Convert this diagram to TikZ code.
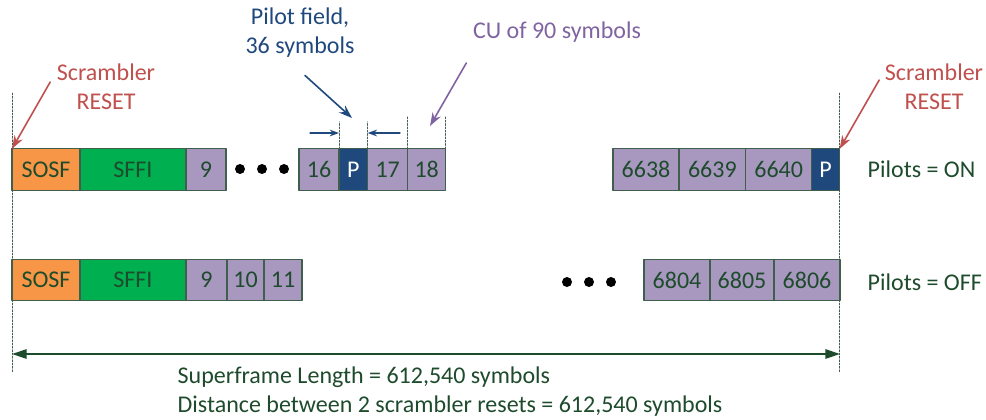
\documentclass[tikz,border=0pt]{standalone}
\usepackage{fontspec}
\setmainfont{Carlito}
\usetikzlibrary{arrows.meta,positioning}

\definecolor{sosfc}{HTML}{F79646}
\definecolor{sffic}{HTML}{00B050}
\definecolor{cuc}{HTML}{A898C0}
\definecolor{pilc}{HTML}{1F497D}
\definecolor{edgec}{HTML}{3F5E4C}
\definecolor{txtc}{HTML}{1E4B2C}
\definecolor{rstc}{HTML}{C0504D}
\definecolor{cutxt}{HTML}{8064A2}

\begin{document}
\begin{tikzpicture}[x=0.75pt,y=-0.75pt,line cap=round,line join=round,
    font=\fontsize{18}{21.75}\selectfont,
    cell/.style={draw=edgec,line width=0.8pt,minimum height=31pt,inner sep=0pt,outer sep=0pt,text=txtc},
    cu/.style={cell,fill=cuc},
    pil/.style={cell,fill=pilc,text=white,minimum width=21.5pt},
    guide/.style={densely dashed,dash pattern=on 1.5pt off 1pt,thin,edgec},
    dot/.style={circle,fill=black,inner sep=0pt,minimum size=7.5pt}]

    \useasboundingbox (0,0) rectangle (986,419);

    % row with pilots
    \node[cell,fill=sosfc,minimum width=51pt,anchor=west] (sosfA) at (12,169.5) {SOSF};
    \node[cell,fill=sffic,minimum width=79.5pt,right=0pt of sosfA] (sffiA) {SFFI};
    \node[cu,minimum width=30pt,right=0pt of sffiA] (cA9) {9};
    \node[dot] (dA1) at (240,169) {};
    \node[dot] (dA2) at (262,169) {};
    \node[dot] (dA3) at (284,169) {};
    \node[cu,minimum width=30pt,anchor=west] (cA16) at (299,169.5) {16};
    \node[pil,right=0pt of cA16] (pA1) {P};
    \node[cu,minimum width=30pt,right=0pt of pA1] (cA17) {17};
    \node[cu,minimum width=28.5pt,right=0pt of cA17] (cA18) {18};
    \node[cu,minimum width=49.5pt,anchor=west] (cA6638) at (613,169.5) {6638};
    \node[cu,minimum width=50pt,right=0pt of cA6638] (cA6639) {6639};
    \node[cu,minimum width=49.5pt,right=0pt of cA6639] (cA6640) {6640};
    \node[pil,minimum width=21pt,right=0pt of cA6640] (pA2) {P};
    \node[text=txtc,anchor=west] (onA) at (863,169.5) {Pilots = ON};

    % row without pilots
    \node[cell,fill=sosfc,minimum width=51pt,anchor=west] (sosfB) at (12,280) {SOSF};
    \node[cell,fill=sffic,minimum width=79.5pt,right=0pt of sosfB] (sffiB) {SFFI};
    \node[cu,minimum width=30.75pt,right=0pt of sffiB] (cB9) {9};
    \node[cu,minimum width=27.75pt,right=0pt of cB9] (cB10) {10};
    \node[cu,minimum width=28.5pt,right=0pt of cB10] (cB11) {11};
    \node[dot] (dB1) at (567,282) {};
    \node[dot] (dB2) at (589,282) {};
    \node[dot] (dB3) at (611,282) {};
    \node[cu,minimum width=49.5pt,anchor=west] (cB6804) at (644,280) {6804};
    \node[cu,minimum width=48pt,right=0pt of cB6804] (cB6805) {6805};
    \node[cu,minimum width=49.5pt,right=0pt of cB6805] (cB6806) {6806};
    \node[text=txtc,anchor=west] (offB) at (863,282) {Pilots = OFF};

    % guides
    \draw[guide] (sosfA.north west |- 0,93) -- (sosfA.north west |- 0,372);
    \draw[guide] (pA2.north east |- 0,93) -- (pA2.north east |- 0,372);
    \draw[guide] (pA1.north west) -- ++(0,-27);
    \draw[guide] (pA1.north east) -- ++(0,-27);
    \draw[guide] (cA18.north west) -- ++(0,-32);
    \draw[guide] (cA18.north east) -- ++(0,-32);

    % labels
    \node[rstc,align=center] (rstL) at (106,87) {Scrambler\\RESET};
    \node[rstc,align=center] (rstR) at (934,87) {Scrambler\\RESET};
    \node[pilc,align=center] (pilot) at (300,33) {Pilot field,\\36 symbols};
    \node[cutxt] (cuLab) at (557,32) {CU of 90 symbols};
    \node[txtc,align=left,anchor=west] (total) at (173,391.5)
        {Superframe Length = 612,540 symbols\\Distance between 2 scrambler resets = 612,540 symbols};

    % arrows
    \coordinate (pTip) at (352,118);
    \coordinate (cuTip) at (430,126);
    \coordinate (wL) at (310,133);
    \coordinate (wR) at (400,133);
    \draw[rstc,line width=1.2pt,-{Stealth[length=10pt,width=7pt]}] (rstL.west) ++(-2,-5) -- (sosfA.north west);
    \draw[rstc,line width=1.2pt,-{Stealth[length=10pt,width=7pt]}] (rstR.west) ++(-1,-7) -- (pA2.north east);
    \draw[pilc,line width=1.2pt,-{Stealth[length=10pt,width=7pt]}] (pilot.south) ++(5,13) -- (pTip);
    \draw[cutxt,line width=1.2pt,-{Stealth[length=10pt,width=7pt]}] (cuLab.south west) ++(-2,16) -- (cuTip);
    \draw[pilc,line width=1pt,-{Stealth[length=7pt,width=5pt]}] (wL) -- (wL -| pA1.west);
    \draw[pilc,line width=1pt,-{Stealth[length=7pt,width=5pt]}] (wR) -- (wR -| pA1.east);
    \draw[txtc,line width=1.5pt,{Triangle[length=11pt,width=7pt]}-{Triangle[length=11pt,width=7pt]}]
        (sosfB.south west |- 0,354) -- (cB6806.south east |- 0,354);

\end{tikzpicture}
\end{document}
